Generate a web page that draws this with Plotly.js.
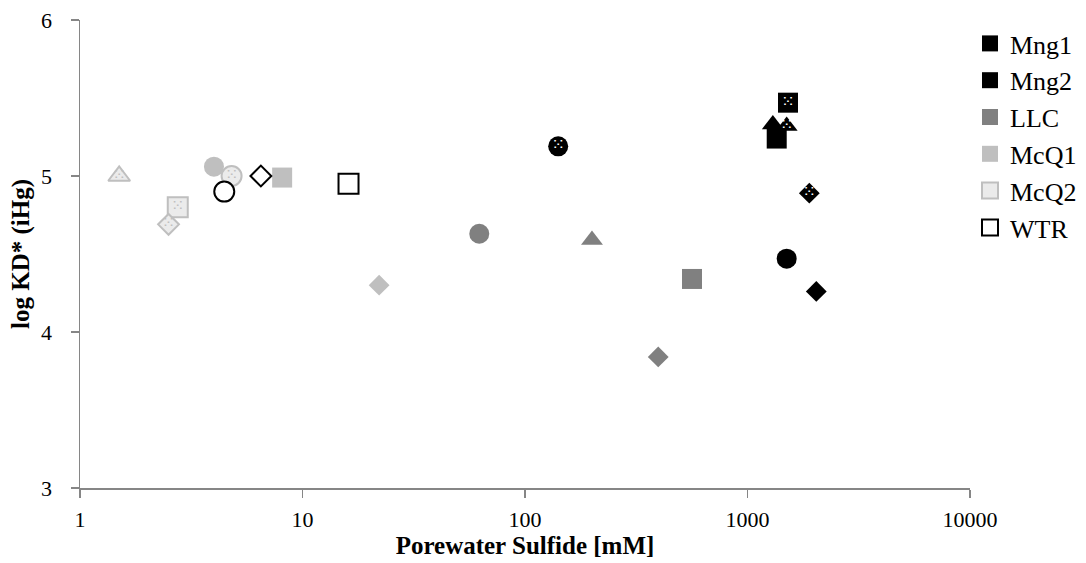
<!DOCTYPE html>
<html>
<head>
<meta charset="utf-8">
<script src="https://cdn.plot.ly/plotly-3.0.1.min.js"></script>
<style>
  html, body { margin: 0; padding: 0; background: #ffffff; }
  #chart { width: 1086px; height: 563px; }
</style>
</head>
<body>
<div id="chart"></div>
<script>
// Sites shown in the legend
const sites = ['Mng1', 'Mng2', 'LLC', 'McQ1', 'McQ2', 'WTR'];

// Each site has up to four samples, always listed in the same order
// (square, triangle, circle, diamond); null = no sample.
const mng1Sulfide = [1353, 1300, 1500, 2038];
const mng1LogKd   = [5.24, 5.33, 4.47, 4.26];

const mng2Sulfide = [1521, 1500, 141, 1896];
const mng2LogKd   = [5.47, 5.32, 5.19, 4.89];

const llcSulfide  = [563, 200, 62.3, 397];
const llcLogKd    = [4.34, 4.59, 4.63, 3.84];

const mcq1Sulfide = [8.1, null, 4.0, 22.1];
const mcq1LogKd   = [4.99, null, 5.06, 4.30];

const mcq2Sulfide = [2.75, 1.5, 4.8, 2.5];
const mcq2LogKd   = [4.80, 5.00, 5.00, 4.69];

const wtrSulfide  = [16.1, null, 4.45, 6.5];
const wtrLogKd    = [4.95, null, 4.90, 5.00];

// Axis ticks
const xTicks = [1, 10, 100, 1000, 10000];
const xTickLabels = ['1', '10', '100', '1000', '10000'];
const yTicks = [3, 4, 5, 6];

// Marker shape and size per sample slot
const slotSymbols = ['square', 'triangle-up', 'circle', 'diamond'];
const slotSizes   = [20, 19, 20, 16];

// Fill / outline per site; "texture" draws a small dot pattern on top
const siteStyle = {
  Mng1: { fill: '#000000', line: '#000000', lw: 0 },
  Mng2: { fill: '#000000', line: '#000000', lw: 0, texture: '#ffffff' },
  LLC:  { fill: '#808080', line: '#808080', lw: 0 },
  McQ1: { fill: '#bfbfbf', line: '#bfbfbf', lw: 0 },
  McQ2: { fill: '#ebebeb', line: '#bfbfbf', lw: 2, texture: '#bfbfbf' },
  WTR:  { fill: '#ffffff', line: '#000000', lw: 2 }
};

const siteData = {
  Mng1: [mng1Sulfide, mng1LogKd],
  Mng2: [mng2Sulfide, mng2LogKd],
  LLC:  [llcSulfide, llcLogKd],
  McQ1: [mcq1Sulfide, mcq1LogKd],
  McQ2: [mcq2Sulfide, mcq2LogKd],
  WTR:  [wtrSulfide, wtrLogKd]
};

const serif = 'Liberation Serif, Times New Roman, serif';

const traces = [];
sites.forEach(function (name) {
  const xs = siteData[name][0];
  const ys = siteData[name][1];
  const st = siteStyle[name];
  traces.push({
    type: 'scatter',
    mode: 'markers',
    name: name,
    x: xs,
    y: ys,
    marker: {
      symbol: slotSymbols,
      size: slotSizes,
      opacity: 1,
      color: st.fill,
      line: { color: st.line, width: st.lw }
    },
    cliponaxis: false,
    hoverinfo: 'x+y+name'
  });
  if (st.texture) {
    // dotted texture on top of the markers
    traces.push({
      type: 'scatter',
      mode: 'text',
      x: xs,
      y: ys,
      text: xs.map(function () { return '⁙'; }),
      textposition: 'middle center',
      textfont: { family: 'DejaVu Sans', size: 16, color: st.texture },
      showlegend: false,
      hoverinfo: 'skip',
      cliponaxis: false
    });
  }
});

const axisCommon = {
  showline: true,
  linecolor: '#868686',
  linewidth: 1.5,
  ticks: 'outside',
  ticklen: 8,
  tickwidth: 1.5,
  tickcolor: '#868686',
  showgrid: false,
  zeroline: false,
  tickfont: { family: serif, size: 22, color: '#000000' }
};

const layout = {
  width: 1086,
  height: 563,
  margin: { l: 80, r: 116, t: 20, b: 75, autoexpand: false },
  paper_bgcolor: '#ffffff',
  plot_bgcolor: '#ffffff',
  showlegend: true,
  legend: {
    x: 1.0,
    xanchor: 'left',
    y: 1,
    yanchor: 'top',
    font: { family: serif, size: 26, color: '#000000' },
    bgcolor: 'rgba(0,0,0,0)',
    itemwidth: 30
  },
  xaxis: Object.assign({}, axisCommon, {
    type: 'log',
    range: [0, 4],
    tickmode: 'array',
    tickvals: xTicks,
    ticktext: xTickLabels,
    ticklabelstandoff: 3,
    title: {
      text: 'Porewater Sulfide [mM]',
      font: { family: serif, size: 25, color: '#000000', weight: 'bold' },
      standoff: 0
    }
  }),
  yaxis: Object.assign({}, axisCommon, {
    range: [3, 6],
    tickmode: 'array',
    tickvals: yTicks,
    ticklabelstandoff: 14,
    title: {
      text: 'log KD* (iHg)',
      font: { family: serif, size: 25, color: '#000000', weight: 'bold' },
      standoff: 4
    }
  })
};

Plotly.newPlot('chart', traces, layout, { displayModeBar: false, staticPlot: true });
</script>
</body>
</html>
